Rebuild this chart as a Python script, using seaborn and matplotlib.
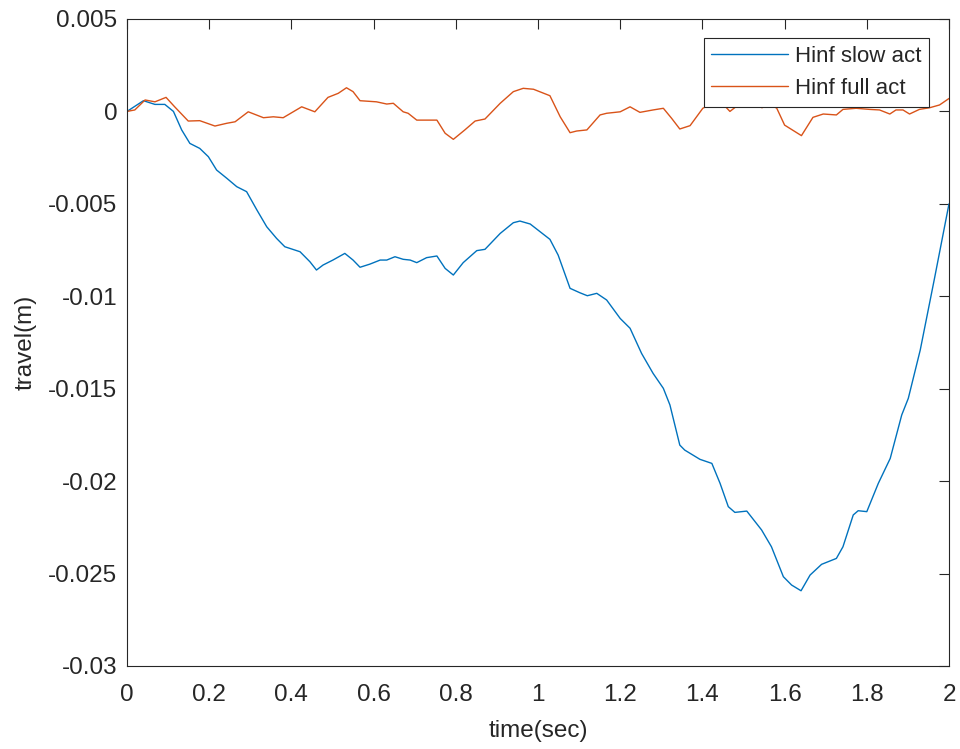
import numpy as np
import pandas as pd
import matplotlib
matplotlib.use("Agg")
import matplotlib.pyplot as plt
from matplotlib.ticker import FuncFormatter
import seaborn as sns

# ---- data ----
t_slow = [0.0, 0.04, 0.068, 0.092, 0.113, 0.133, 0.153, 0.177, 0.198, 0.218, 0.243, 0.267,
          0.291, 0.316, 0.34, 0.364, 0.384, 0.421, 0.445, 0.461, 0.477, 0.501, 0.530, 0.55,
          0.567, 0.591, 0.616, 0.632, 0.652, 0.672, 0.689, 0.705, 0.729, 0.754, 0.774, 0.794,
          0.818, 0.851, 0.871, 0.908, 0.94, 0.956, 0.981, 1.029, 1.049, 1.078, 1.102, 1.12,
          1.143, 1.167, 1.2, 1.224, 1.252, 1.28, 1.305, 1.321, 1.345, 1.357, 1.394, 1.423,
          1.443, 1.463, 1.479, 1.508, 1.544, 1.568, 1.597, 1.617, 1.64, 1.662, 1.69, 1.726,
          1.742, 1.767, 1.779, 1.8, 1.828, 1.857, 1.885, 1.901, 1.93, 1.965, 2.0]
y_slow = [0.0, 0.00058, 0.00038, 0.00038, 0.0, -0.001, -0.00173, -0.002, -0.00245, -0.00317,
          -0.00362, -0.00407, -0.00434, -0.00533, -0.00624, -0.00687, -0.00732, -0.00759,
          -0.00813, -0.00858, -0.00831, -0.00804, -0.00768, -0.00804, -0.00843, -0.00826,
          -0.00804, -0.00804, -0.00786, -0.008, -0.00804, -0.00818, -0.00791, -0.00782,
          -0.00849, -0.00885, -0.00818, -0.00753, -0.00746, -0.0066, -0.00602, -0.00593,
          -0.00609, -0.00692, -0.00777, -0.00957, -0.00981, -0.00997, -0.00984, -0.0102,
          -0.0112, -0.01173, -0.01309, -0.01417, -0.01498, -0.01588, -0.01805, -0.01832,
          -0.01882, -0.01904, -0.02012, -0.02138, -0.02169, -0.02162, -0.02264, -0.02355,
          -0.02517, -0.02562, -0.02593, -0.02508, -0.0245, -0.02418, -0.02355, -0.02183,
          -0.0216, -0.02165, -0.02012, -0.01877, -0.01642, -0.01552, -0.01291, -0.0090, -0.005]

t_full = [0.0, 0.019, 0.044, 0.068, 0.095, 0.116, 0.149, 0.177, 0.214, 0.243, 0.263, 0.295,
          0.332, 0.356, 0.38, 0.425, 0.457, 0.489, 0.514, 0.534, 0.55, 0.567, 0.607, 0.632,
          0.648, 0.672, 0.684, 0.705, 0.754, 0.774, 0.794, 0.822, 0.847, 0.871, 0.908, 0.94,
          0.964, 0.989, 1.029, 1.054, 1.078, 1.094, 1.119, 1.151, 1.167, 1.2, 1.224, 1.248,
          1.28, 1.305, 1.325, 1.345, 1.37, 1.401, 1.43, 1.45, 1.467, 1.49, 1.52, 1.545, 1.565,
          1.581, 1.6, 1.641, 1.669, 1.694, 1.726, 1.742, 1.774, 1.807, 1.831, 1.856, 1.871,
          1.888, 1.904, 1.928, 1.953, 1.977, 2.0]
y_full = [0.0, 0.00008, 0.00062, 0.00052, 0.00076, 0.00025, -0.00052, -0.0005, -0.00079,
          -0.00064, -0.00056, -0.00002, -0.00034, -0.00029, -0.00034, 0.00025, -0.00002,
          0.00076, 0.00098, 0.00128, 0.00107, 0.00058, 0.00052, 0.0004, 0.00044, -0.00002,
          -0.0001, -0.00047, -0.00047, -0.00118, -0.00151, -0.001, -0.00052, -0.00041,
          0.00044, 0.00107, 0.00125, 0.0012, 0.00085, -0.00029, -0.00115, -0.00106, -0.001,
          -0.00019, -0.0001, -0.00002, 0.00025, -0.00005, 0.00008, 0.00017, -0.00037,
          -0.00095, -0.00077, 0.00017, 0.0005, 0.0004, 0.0, 0.0004, 0.00045, 0.0002, 0.0004,
          0.00017, -0.00074, -0.00131, -0.00032, -0.00014, -0.00019, 0.00011, 0.00017,
          0.00011, 0.00008, -0.00014, 0.00008, 0.00008, -0.00014, 0.00011, 0.0002, 0.00035,
          0.0007]

labels = ["Hinf slow act", "Hinf full act"]
colors = ["#0072BD", "#D95319"]
x_ticks = [0, 0.2, 0.4, 0.6, 0.8, 1.0, 1.2, 1.4, 1.6, 1.8, 2.0]
y_ticks = [-0.03, -0.025, -0.02, -0.015, -0.01, -0.005, 0, 0.005]

df = pd.concat([
    pd.DataFrame({"t": t_slow, "y": y_slow, "series": labels[0]}),
    pd.DataFrame({"t": t_full, "y": y_full, "series": labels[1]}),
], ignore_index=True)

sns.set_style("white")
plt.rcParams["font.family"] = ["Liberation Sans", "DejaVu Sans"]
plt.rcParams["axes.unicode_minus"] = False

fig = plt.figure(figsize=(9.6, 7.49), dpi=100)
ax = fig.add_axes([127/960, 1-666/749, (949-127)/960, (666-19)/749])

sns.lineplot(data=df, x="t", y="y", hue="series", palette=colors, hue_order=labels,
             sort=False, estimator=None, linewidth=1.0, ax=ax)

ax.set_xlim(0, 2)
ax.set_ylim(-0.03, 0.005)
ax.set_xticks(x_ticks)
ax.set_yticks(y_ticks)
fmt = FuncFormatter(lambda v, p: "%g" % round(v, 6))
ax.xaxis.set_major_formatter(fmt)
ax.yaxis.set_major_formatter(fmt)
ax.tick_params(direction="in", length=7, width=0.8, color="#262626",
               labelsize=17.5, labelcolor="#262626", top=True, right=True)
ax.tick_params(axis="x", pad=13)
ax.tick_params(axis="y", pad=7)
for s in ax.spines.values():
    s.set_visible(True)
    s.set_color("#262626")
    s.set_linewidth(0.8)

ax.set_xlabel("time(sec)", fontsize=17.5, color="#262626", labelpad=10)
ax.set_ylabel("travel(m)", fontsize=17.5, color="#262626", labelpad=8)

leg = ax.legend(loc="upper right", bbox_to_anchor=(0.9757, 0.9706), borderaxespad=0,
                fontsize=16, handlelength=3.45, frameon=True, fancybox=False,
                edgecolor="#262626", framealpha=1, borderpad=0.35, labelspacing=0.5,
                handletextpad=0.3)
leg.get_frame().set_linewidth(0.8)
for line in leg.get_lines():
    line.set_linewidth(1.0)

fig.savefig("out.png", dpi=100)
